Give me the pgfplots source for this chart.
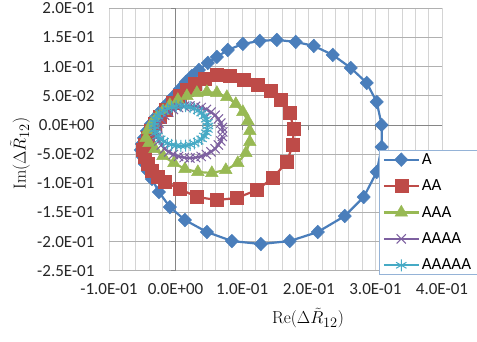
\documentclass[border=0pt]{standalone}
\usepackage{pgfplots}
\pgfplotsset{compat=1.18}
\usepackage[no-math]{fontspec}
\setmainfont{Carlito}
\definecolor{Ablue}{HTML}{4A7EBB}
\definecolor{Ared}{HTML}{BE4B48}
\definecolor{Agreen}{HTML}{98B954}
\definecolor{Apurple}{HTML}{7D60A0}
\definecolor{Acyan}{HTML}{46AAC5}
\definecolor{hgrid}{HTML}{B0B0B0}
\definecolor{vgrid}{HTML}{D4D4D4}
\definecolor{axgray}{HTML}{868686}
\definecolor{legbd}{HTML}{95B3D7}
\newcommand{\legtxt}[1]{\makebox[75pt][l]{#1}}
\begin{document}
\begin{tikzpicture}
\useasboundingbox (-109pt,-71.2pt) rectangle (368pt,270.8pt);
\begin{axis}[
  scale only axis,
  width=333pt, height=262.5pt,
  xmin=-0.1, xmax=0.4, ymin=-0.25, ymax=0.2,
  xtick={-0.1,0,0.1,0.2,0.3,0.4},
  xticklabels={-1.0E-01,0.0E+00,1.0E-01,2.0E-01,3.0E-01,4.0E-01},
  ytick={-0.25,-0.2,-0.15,-0.1,-0.05,0,0.05,0.1,0.15,0.2},
  yticklabels={-2.5E-01,-2.0E-01,-1.5E-01,-1.0E-01,-5.0E-02,0.0E+00,5.0E-02,1.0E-01,1.5E-01,2.0E-01},
  minor x tick num=4,
  xmajorgrids, xminorgrids, ymajorgrids,
  x grid style={vgrid, line width=0.9pt},
  minor x grid style={vgrid, line width=0.9pt},
  y grid style={hgrid, line width=0.9pt},
  axis line style={draw=none},
  major tick length=0pt, minor tick length=0pt,
  tick label style={font=\fontsize{17}{20}\selectfont, text=black!85},
  xticklabel style={yshift=-9pt},
  yticklabel style={xshift=-11pt},
  xlabel={$\mathrm{Re}(\Delta\tilde{R}_{12})$},
  ylabel={$\mathrm{Im}(\Delta\tilde{R}_{12})$},
  label style={font=\fontsize{19}{22}\selectfont},
  xlabel style={at={(axis description cs:0.5976,-0.1798)}, anchor=center},
  ylabel style={at={(axis description cs:-0.2673,0.4469)}, anchor=center},
  legend style={at={(axis description cs:0.8117,0.460)}, anchor=north west,
    fill=white, draw=legbd, line width=0.8pt,
    font=\fontsize{17}{20}\selectfont, row sep=12pt,
    inner xsep=3pt, inner ysep=2pt,
    nodes={inner ysep=1pt}},
  legend cell align=left,
  legend image code/.code={\draw[mark repeat=2,mark phase=2] plot coordinates {(0pt,0pt) (17.5pt,0pt) (35pt,0pt)};},
  every axis plot/.append style={line width=2.2pt},
]
\draw[axgray, line width=0.9pt] (axis cs:-0.1,0) -- (axis cs:0.4,0);
\draw[axgray, line width=0.9pt] (axis cs:0,-0.25) -- (axis cs:0,0.2);
\pgfplotsinvokeforeach{-0.1,0,0.1,0.2,0.3,0.4}{\draw[axgray, line width=0.9pt] (axis cs:#1,0) -- ([yshift=-5pt]axis cs:#1,0);}
\pgfplotsinvokeforeach{-0.25,-0.2,-0.15,-0.1,-0.05,0,0.05,0.1,0.15,0.2}{\draw[axgray, line width=0.9pt] (axis cs:0,#1) -- ([xshift=-5pt]axis cs:0,#1);}

\addplot[color=Ablue, mark=diamond*, mark size=6.8pt, mark options={xscale=1.3, line width=0.5pt}] coordinates {
(-0.052,-0.0429) (-0.049,-0.0549) (-0.046,-0.0669) (-0.0416,-0.0789) (-0.0356,-0.0926)
(-0.025,-0.1149) (-0.0086,-0.1407) (0.014,-0.1630) (0.047,-0.1835) (0.0845,-0.1990)
(0.128,-0.2041) (0.1714,-0.1990) (0.2135,-0.1835) (0.254,-0.1561) (0.2825,-0.1235)
(0.302,-0.0806) (0.3094,-0.0377) (0.3094,0.0) (0.302,0.0395) (0.287,0.0721)
(0.263,0.0978) (0.236,0.1201) (0.2075,0.1355) (0.1804,0.1424) (0.152,0.1458)
(0.1264,0.1441) (0.101,0.1389) (0.0784,0.1286) (0.062,0.1166) (0.0484,0.1063)
(0.035,0.0943) (0.0244,0.0840) (0.0154,0.0738) (0.0064,0.0617) (-0.0026,0.0497)
(-0.0116,0.0377) (-0.0206,0.0257) (-0.0296,0.0137) (-0.037,0.0017) (-0.043,-0.0103)
(-0.0475,-0.0223) (-0.0506,-0.0326)
};
\addlegendentry{\legtxt{A}}
\addplot[color=Ared, mark=square*, mark size=6.5pt, mark options={line width=0.5pt}] coordinates {
(-0.049,-0.0429) (-0.046,-0.0549) (-0.0416,-0.0669) (-0.0356,-0.0789) (-0.0266,-0.0892)
(-0.016,-0.0978) (0.0064,-0.1098) (0.032,-0.1235) (0.062,-0.1286) (0.092,-0.1252)
(0.122,-0.1115) (0.146,-0.0909) (0.167,-0.0635) (0.176,-0.0343) (0.1775,-0.0069)
(0.1714,0.0206) (0.158,0.0429) (0.143,0.0583) (0.1234,0.0686) (0.1025,0.0772)
(0.0814,0.0840) (0.062,0.0858) (0.044,0.0800) (0.029,0.0703) (0.017,0.0600)
(0.0064,0.0497) (-0.004,0.0377) (-0.0146,0.0257) (-0.0236,0.0137) (-0.031,0.0017)
(-0.037,-0.0103) (-0.0416,-0.0223) (-0.046,-0.0343)
};
\addlegendentry{\legtxt{AA}}
\addplot[color=Agreen, mark=triangle*, mark size=7.2pt, mark options={line width=0.5pt}] coordinates {
(-0.0445,-0.0223) (-0.0416,-0.0086) (-0.0356,0.0034) (-0.028,0.0137) (-0.019,0.0240)
(-0.0086,0.0343) (0.0034,0.0429) (0.017,0.0497) (0.032,0.0549) (0.047,0.0566)
(0.062,0.0549) (0.077,0.0480) (0.0904,0.0360) (0.101,0.0223) (0.1085,0.0069)
(0.1114,-0.0103) (0.1114,-0.0292) (0.1055,-0.0480) (0.0934,-0.0652) (0.0754,-0.0772)
(0.0544,-0.0823) (0.0334,-0.0806) (0.014,-0.0755) (-0.0026,-0.0652) (-0.019,-0.0532)
(-0.031,-0.0412) (-0.040,-0.0309)
};
\addlegendentry{\legtxt{AAA}}
\addplot[color=Apurple, mark=x, mark size=6.5pt, mark options={line width=1pt}] coordinates {
(0.0709,-0.0120) (0.0702,-0.0043) (0.0679,0.0033) (0.0643,0.0103) (0.0594,0.0166)
(0.0532,0.0221) (0.0462,0.0266) (0.0384,0.0298) (0.0300,0.0319) (0.0214,0.0326)
(0.0129,0.0319) (0.0045,0.0298) (-0.0033,0.0266) (-0.0103,0.0221) (-0.0165,0.0166)
(-0.0214,0.0103) (-0.0250,0.0033) (-0.0273,-0.0043) (-0.0280,-0.0120) (-0.0273,-0.0197)
(-0.0250,-0.0273) (-0.0214,-0.0343) (-0.0165,-0.0407) (-0.0103,-0.0461) (-0.0033,-0.0506)
(0.0045,-0.0539) (0.0129,-0.0559) (0.0214,-0.0566) (0.0300,-0.0559) (0.0384,-0.0539)
(0.0462,-0.0506) (0.0532,-0.0461) (0.0594,-0.0407) (0.0643,-0.0343) (0.0679,-0.0273)
(0.0702,-0.0197)
};
\addlegendentry{\legtxt{AAAA}}
\addplot[color=Acyan, mark=asterisk, mark size=6pt, mark options={line width=1pt}] coordinates {
(0.0485,-0.0017) (0.0478,0.0043) (0.0460,0.0099) (0.0430,0.0154) (0.0390,0.0204)
(0.0340,0.0245) (0.0282,0.0280) (0.0218,0.0305) (0.0150,0.0321) (0.0080,0.0326)
(0.0009,0.0321) (-0.0058,0.0305) (-0.0123,0.0280) (-0.0181,0.0245) (-0.0231,0.0204)
(-0.0271,0.0154) (-0.0301,0.0099) (-0.0319,0.0043) (-0.0325,-0.0017) (-0.0319,-0.0077)
(-0.0301,-0.0134) (-0.0271,-0.0189) (-0.0231,-0.0238) (-0.0181,-0.0280) (-0.0123,-0.0314)
(-0.0058,-0.0340) (0.0009,-0.0355) (0.0080,-0.0360) (0.0150,-0.0355) (0.0218,-0.0340)
(0.0282,-0.0314) (0.0340,-0.0280) (0.0390,-0.0238) (0.0430,-0.0189) (0.0460,-0.0134)
(0.0478,-0.0077)
};
\addlegendentry{\legtxt{AAAAA}}
\end{axis}
\end{tikzpicture}
\end{document}
